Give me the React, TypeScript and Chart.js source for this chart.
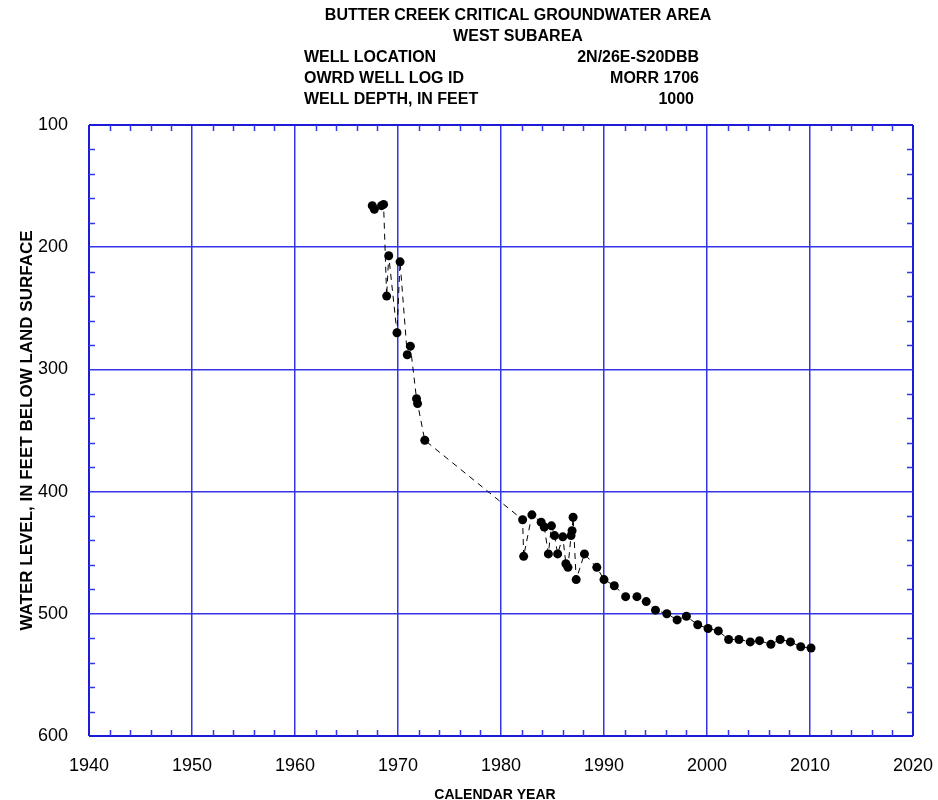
import React, { useEffect, useRef } from 'react';
import { Chart, registerables } from 'chart.js';
Chart.register(...registerables);

const years = [
  1967.5, 1967.7, 1968.4, 1968.6, 1968.9, 1969.1, 1969.9, 1970.2, 1970.9, 1971.2,
  1971.8, 1971.9, 1972.6,
  1982.1, 1982.2, 1983.0, 1983.9, 1984.2, 1984.6, 1984.9, 1985.2, 1985.5, 1986.0,
  1986.3, 1986.5, 1986.8, 1986.9, 1987.0, 1987.3, 1988.1, 1989.3, 1990.0, 1991.0,
  1992.1, 1993.2, 1994.1, 1995.0, 1996.1, 1997.1, 1998.0, 1999.1, 2000.1, 2001.1,
  2002.1, 2003.1, 2004.2, 2005.1, 2006.2, 2007.1, 2008.1, 2009.1, 2010.1,
];
const levels = [
  166, 169, 166, 165, 240, 207, 270, 212, 288, 281,
  324, 328, 358,
  423, 453, 419, 425, 429, 451, 428, 436, 451, 437,
  459, 462, 436, 432, 421, 472, 451, 462, 472, 477,
  486, 486, 490, 497, 500, 505, 502, 509, 512, 514,
  521, 521, 523, 522, 525, 521, 523, 527, 528,
];
const xTickValues = [1940, 1950, 1960, 1970, 1980, 1990, 2000, 2010, 2020];
const yTickValues = [100, 200, 300, 400, 500, 600];
const titleLines = ['BUTTER CREEK CRITICAL GROUNDWATER AREA', 'WEST SUBAREA'];
const infoLabels = ['WELL LOCATION', 'OWRD WELL LOG ID', 'WELL DEPTH, IN FEET'];
const infoValues = ['2N/26E-S20DBB', 'MORR 1706', '1000'];
const xAxisTitle = 'CALENDAR YEAR';
const yAxisTitle = 'WATER LEVEL, IN FEET BELOW LAND SURFACE';

const FONT = '"Liberation Sans", Arial, sans-serif';
const GRID = '#3434ea';
const FRAME = '#1c1cd6';

const minorTicks = {
  id: 'minorTicks',
  beforeDatasetsDraw(chart: any) {
    const { ctx, chartArea, scales } = chart;
    const { left, right, top, bottom } = chartArea;
    const x = scales.x;
    const y = scales.y;
    ctx.save();
    ctx.strokeStyle = GRID;
    ctx.lineWidth = 1.5;
    ctx.beginPath();
    for (let yr = 1942; yr < 2020; yr += 2) {
      if (yr % 10 === 0) continue;
      const px = Math.round(x.getPixelForValue(yr)) + 0.5;
      ctx.moveTo(px, bottom);
      ctx.lineTo(px, bottom - 6);
      ctx.moveTo(px, top);
      ctx.lineTo(px, top + 6);
    }
    for (let v = 120; v < 600; v += 20) {
      if (v % 100 === 0) continue;
      const py = Math.round(y.getPixelForValue(v)) + 0.5;
      ctx.moveTo(left, py);
      ctx.lineTo(left + 6, py);
      ctx.moveTo(right, py);
      ctx.lineTo(right - 6, py);
    }
    ctx.stroke();
    ctx.restore();
  },
};

const texts = {
  id: 'texts',
  afterDraw(chart: any) {
    const { ctx, chartArea } = chart;
    ctx.save();
    ctx.fillStyle = '#000';
    ctx.textBaseline = 'middle';
    ctx.font = `bold 16px ${FONT}`;
    ctx.textAlign = 'center';
    ctx.fillText(titleLines[0], 518, 16);
    ctx.fillText(titleLines[1], 518, 37);
    const rows = [58, 79, 100];
    const rightEdges = [699, 699, 694];
    infoLabels.forEach((t, i) => {
      ctx.textAlign = 'left';
      ctx.fillText(t, 304, rows[i]);
      ctx.textAlign = 'right';
      ctx.fillText(infoValues[i], rightEdges[i], rows[i]);
    });
    ctx.font = `bold 14px ${FONT}`;
    ctx.textAlign = 'center';
    ctx.fillText(xAxisTitle, 495, 795);
    ctx.font = `bold 17px ${FONT}`;
    ctx.translate(27, (chartArea.top + chartArea.bottom) / 2);
    ctx.rotate(-Math.PI / 2);
    ctx.fillText(yAxisTitle, 0, 0);
    ctx.restore();
  },
};

const isEdge = (c: any, lo: number, hi: number) => c.tick && (c.tick.value === lo || c.tick.value === hi);

export default function App() {
  const ref = useRef<HTMLCanvasElement | null>(null);
  useEffect(() => {
    if (!ref.current) return;
    const chart = new Chart(ref.current, {
      type: 'scatter',
      data: {
        datasets: [
          {
            data: years.map((x, i) => ({ x, y: levels[i] })),
            showLine: true,
            borderColor: '#000',
            borderWidth: 1,
            borderDash: [6, 5],
            pointRadius: 4.5,
            pointBackgroundColor: '#000',
            pointBorderWidth: 0,
            clip: false as any,
          },
        ],
      },
      options: {
        responsive: false,
        animation: false,
        layout: { padding: { top: 125, right: 25, left: 0, bottom: 0 } },
        plugins: { legend: { display: false }, tooltip: { enabled: false }, title: { display: false } },
        scales: {
          x: {
            type: 'linear',
            min: 1940,
            max: 2020,
            afterBuildTicks: (s: any) => {
              s.ticks = xTickValues.map((v) => ({ value: v }));
            },
            afterFit: (s: any) => {
              s.height = 64;
              s.paddingLeft = 0;
              s.paddingRight = 0;
            },
            grid: {
              color: (c: any) => (isEdge(c, 1940, 2020) ? FRAME : GRID),
              lineWidth: (c: any) => (isEdge(c, 1940, 2020) ? 2 : 1.5),
              drawTicks: false,
            },
            border: { display: false },
            ticks: {
              padding: 19,
              color: '#000',
              autoSkip: false,
              maxRotation: 0,
              font: { family: FONT, size: 18 },
              callback: (v: any) => String(v),
            },
          },
          y: {
            type: 'linear',
            reverse: true,
            min: 100,
            max: 600,
            afterBuildTicks: (s: any) => {
              s.ticks = yTickValues.map((v) => ({ value: v }));
            },
            afterFit: (s: any) => {
              s.width = 89;
              s.paddingTop = 0;
              s.paddingBottom = 0;
            },
            grid: {
              color: (c: any) => (isEdge(c, 100, 600) ? FRAME : GRID),
              lineWidth: (c: any) => (isEdge(c, 100, 600) ? 2 : 1.5),
              drawTicks: false,
            },
            border: { display: false },
            ticks: {
              padding: 21,
              color: '#000',
              autoSkip: false,
              font: { family: FONT, size: 18 },
              callback: (v: any) => String(v),
            },
          },
        },
      },
      plugins: [minorTicks, texts],
    });
    return () => chart.destroy();
  }, []);
  return (
    <div style={{ position: 'absolute', left: 0, top: 0, width: 938, height: 800 }}>
      <canvas ref={ref} width={938} height={800} style={{ display: 'block' }} />
    </div>
  );
}
